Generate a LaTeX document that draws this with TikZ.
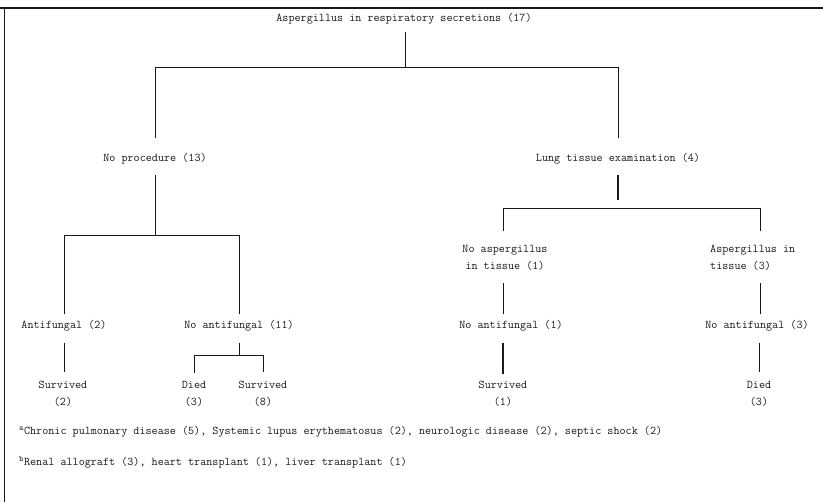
\documentclass[tikz,border=0pt]{standalone}
\usepackage{fontspec}
\usepackage{tikz}
\usetikzlibrary{positioning}
\definecolor{inkline}{HTML}{1A1A1A}

\begin{document}
\begin{tikzpicture}[x=1pt, y=-1pt,
  lbl/.style={font=\ttfamily\fontsize{11.8}{17}\selectfont, inner sep=2pt, text=inkline},
  twoline/.style={lbl, align=center},
  link/.style={draw=inkline, line width=0.8pt},
  heavy/.style={link, line width=1.3pt}]
  \useasboundingbox (0,0) rectangle (823,502);
  % frame: top rule and left rule only
  \draw[link, line width=1.2pt] (0,8) -- (823,8);
  \draw[link] (4,8) -- (4,502);

  % level 0 and 1
  \node[lbl] (root) at (404,19) {Aspergillus in respiratory secretions (17)};
  \node[lbl] (noproc) at (155,159) {No procedure (13)};
  \node[lbl] (lung) at (618,159) {Lung tissue examination (4)};
  % left branch
  \node[lbl] (antif) at (64,326) {Antifungal (2)};
  \node[lbl] (noanti) at (239,326) {No antifungal (11)};
  \node[twoline] (surv2) at (63,394) {Survived\\(2)};
  \node[twoline] (died3) at (194,394) {Died\\(3)};
  \node[twoline] (surv8) at (263,394) {Survived\\(8)};
  % right branch
  \node[twoline] (noasp) at (505,258) {No aspergillus\\in tissue (1)};
  \node[lbl, align=left, anchor=west] (asp) at (708,258) {Aspergillus in\\tissue (3)};
  \node[lbl] (noantiA) at (511,326) {No antifungal (1)};
  \node[lbl] (noantiB) at (757,326) {No antifungal (3)};
  \node[twoline] (surv1) at (503,394) {Survived\\(1)};
  \node[twoline] (died3b) at (759,394) {Died\\(3)};

  % junctions
  \coordinate (topbar) at (405,67);
  \coordinate (procbar) at (155,235);
  \coordinate (antibar) at (239,355);
  \coordinate (lungbar) at (618,208);
  \coordinate (leftdrop) at (503,208);
  \coordinate (rightdrop) at (760,208);

  % connectors, top split
  \draw[link, shorten <=5pt] (root.south -| topbar) -- (topbar);
  \draw[link] (noproc |- topbar) -- (lung |- topbar);
  \draw[link, shorten >=13pt] (noproc |- topbar) -- (noproc.north);
  \draw[link, shorten >=13pt] (lung |- topbar) -- (lung.north);
  % no procedure
  \draw[link, shorten <=8pt] (noproc.south) -- (procbar);
  \draw[link] (antif |- procbar) -- (noanti |- procbar);
  \draw[link, shorten >=4pt] (antif |- procbar) -- (antif.north);
  \draw[link, shorten >=4pt] (noanti |- procbar) -- (noanti.north);
  \draw[link, shorten <=9pt, shorten >=7pt] (antif.south) -- (antif.south |- surv2.north);
  \draw[link, shorten <=9pt] (noanti.south) -- (antibar);
  \draw[link] (died3 |- antibar) -- (surv8 |- antibar);
  \draw[link, shorten >=6pt] (died3 |- antibar) -- (died3.north);
  \draw[link, shorten >=7pt] (surv8 |- antibar) -- (surv8.north);
  % lung tissue
  \draw[heavy, shorten <=8pt, shorten >=8pt] (lung.south) -- (lungbar);
  \draw[link] (leftdrop) -- (rightdrop);
  \draw[link, shorten >=12pt] (leftdrop) -- (leftdrop |- noasp.north);
  \draw[link, shorten >=12pt] (rightdrop) -- (rightdrop |- asp.north);
  \draw[link, shorten <=10pt, shorten >=4pt] (noasp.south -| leftdrop) -- (leftdrop |- noantiA.north);
  \draw[link, shorten <=10pt, shorten >=4pt] (asp.south -| rightdrop) -- (rightdrop |- noantiB.north);
  \draw[heavy, shorten <=9pt, shorten >=5pt] (noantiA.south -| surv1) -- (surv1.north);
  \draw[link, shorten <=9pt, shorten >=7pt] (noantiB.south -| died3b) -- (died3b.north);

  % footnotes
  \node[lbl, anchor=base west] (notea) at (17,435) {\textsuperscript{a}Chronic pulmonary disease (5), Systemic lupus erythematosus (2), neurologic disease (2), septic shock (2)};
  \node[lbl, anchor=base west] (noteb) at (17,466) {\textsuperscript{b}Renal allograft (3), heart transplant (1), liver transplant (1)};
\end{tikzpicture}
\end{document}
